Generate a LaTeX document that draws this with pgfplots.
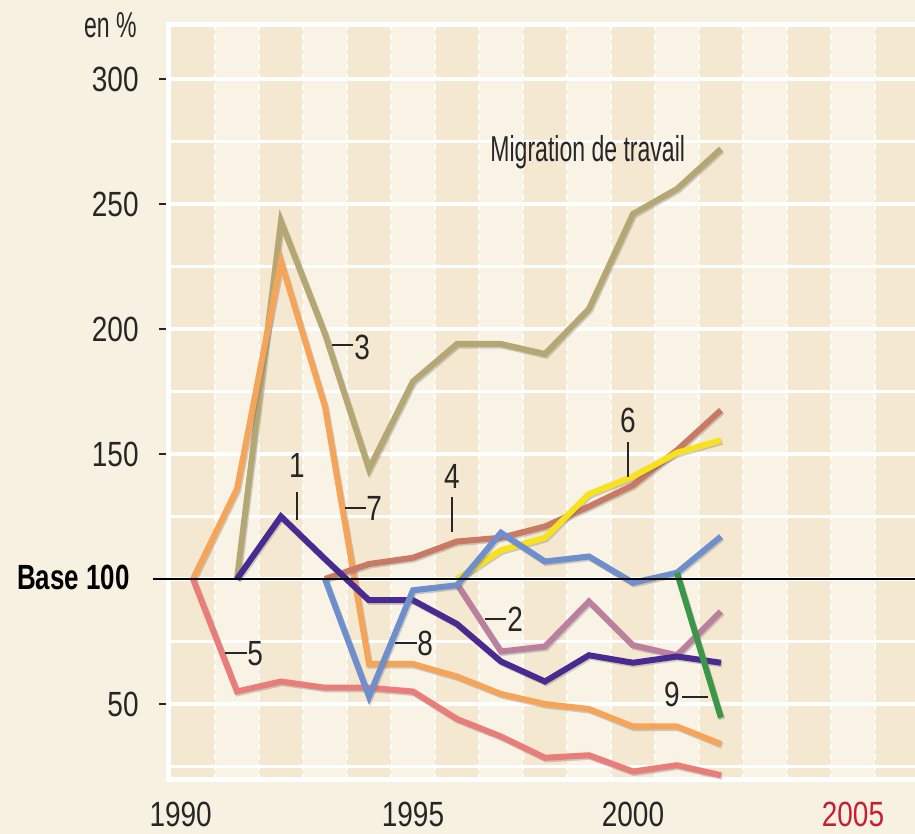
\documentclass[border=0pt]{standalone}
\usepackage{fontspec}
\setmainfont{Liberation Sans}[FakeStretch=0.8]
\newfontfamily\txtfont{Liberation Sans}[FakeStretch=0.64]
\newfontfamily\basefont{Liberation Sans}[FakeStretch=0.74]
\usepackage{pgfplots}
\pgfplotsset{compat=1.18}
\definecolor{bgout}{RGB}{247,241,226}
\definecolor{stripelight}{RGB}{248,243,229}
\definecolor{stripedark}{RGB}{244,232,209}
\definecolor{ckhaki}{RGB}{181,167,115}
\definecolor{corange}{RGB}{245,165,90}
\definecolor{cred}{RGB}{232,125,122}
\definecolor{cbrown}{RGB}{200,122,100}
\definecolor{cyellow}{RGB}{248,226,30}
\definecolor{cmauve}{RGB}{187,128,158}
\definecolor{cpurple}{RGB}{72,42,145}
\definecolor{cblue}{RGB}{110,143,204}
\definecolor{cgreen}{RGB}{60,150,72}
\definecolor{red05}{RGB}{200,30,50}
\pgfplotsset{ser/.style={line width=3pt, no markers,
  preaction={draw=black!60, line width=3pt, opacity=0.3, transform canvas={xshift=0.6pt,yshift=-0.8pt}}}}
\begin{document}
\begin{tikzpicture}
\fill[bgout] (0,0) rectangle (457.5pt,417pt);
\useasboundingbox (0,0) rectangle (457.5pt,417pt);
\begin{axis}[at={(84pt,27pt)}, anchor=south west, scale only axis,
  width=373.5pt, height=377.5pt,
  xmin=1989.432, xmax=2006.41, ymin=19.6, ymax=321.6,
  clip mode=individual,
  axis line style={draw=none},
  axis background/.style={fill=stripelight},
  ytick={50,150,200,250,300}, yticklabels={50,150,200,250,300},
  xtick={1989.72,1995,2000,2005}, xticklabels={1990,1995,2000,\textcolor{red05}{2005}},
  tick align=outside, major tick length=4.5pt,
  ytick style={black!85, line width=0.9pt},
  xtick style={draw=none},
  /pgf/number format/assume math mode=true,
  tick label style={font=\fontsize{17.5}{20}\selectfont, text=black!85},
  yticklabel style={inner sep=0pt, xshift=-10pt},
  xticklabel style={inner sep=0pt, yshift=-6.5pt},
]
\pgfplotsinvokeforeach{1990,1992,1994,1996,1998,2000,2002,2004}{
  \fill[stripedark] (axis cs:#1-0.5,19.6) rectangle (axis cs:#1+0.5,321.6);}
\fill[stripedark] (axis cs:2005.5,19.6) rectangle (axis cs:2006.41,321.6);
\pgfplotsinvokeforeach{1990.5,1991.5,...,2005.5}{
  \draw[white, line width=0.7pt, dash pattern=on 3pt off 2pt, opacity=0.85] (axis cs:#1,19.6) -- (axis cs:#1,321.6);}
\pgfplotsinvokeforeach{25,50,...,300}{
  \draw[white, line width=1.6pt] (axis cs:1989.432,#1) -- (axis cs:2006.41,#1);}
\draw[white, line width=2.5pt] (axis cs:1989.432,19.6) rectangle (axis cs:2007,321.6);

% Migration de travail (3)
\addplot[ser, ckhaki] coordinates {(1991,100) (1992,243) (1993,198) (1994,144) (1995,179) (1996,194) (1997,194) (1998,190) (1999,208) (2000,246) (2001,256) (2002,272)};
% 7
\addplot[ser, corange] coordinates {(1990,100) (1991,136) (1992,227) (1993,169) (1994,66) (1995,66) (1996,61) (1997,54) (1998,50) (1999,48) (2000,41) (2001,41) (2002,34)};
% 5
\addplot[ser, cred] coordinates {(1990,100) (1991,55) (1992,59) (1993,56.5) (1994,56.5) (1995,55) (1996,44) (1997,37) (1998,28.5) (1999,29.5) (2000,23) (2001,25.5) (2002,21.5)};
% 4
\addplot[ser, cbrown] coordinates {(1993,100) (1994,106) (1995,108.5) (1996,115) (1997,116.5) (1998,121) (1999,129) (2000,137.5) (2001,151.5) (2002,167.5)};
% 6
\addplot[ser, cyellow] coordinates {(1996,100) (1997,111.5) (1998,116.5) (1999,134) (2000,141) (2001,150.5) (2002,155.5)};
% 2
\addplot[ser, cmauve] coordinates {(1996,98) (1997,71) (1998,73) (1999,91) (2000,73.5) (2001,69.5) (2002,87)};
% 1
\addplot[ser, cpurple] coordinates {(1991,100) (1992,125) (1993,108) (1994,91.5) (1995,91.5) (1996,82) (1997,67) (1998,59) (1999,69.5) (2000,66.5) (2001,69) (2002,66.5)};
% 8
\addplot[ser, cblue] coordinates {(1993,100) (1994,53) (1995,95.5) (1996,97.5) (1997,118.5) (1998,107) (1999,109) (2000,98.5) (2001,102.5) (2002,117)};
% 9
\addplot[ser, cgreen] coordinates {(2001,102.5) (2002,44.5)};

\draw[black, line width=1pt] (axis cs:1989.09,100) -- (axis cs:2006.5,100);
\end{axis}

\begin{scope}[x=0.5pt,y=-0.5pt,yshift=417pt]
\tikzset{lead/.style={black!85, line width=0.8pt}}
\node[anchor=base east, inner sep=0pt, font=\txtfont\fontsize{18}{20}\selectfont, text=black!85] at (137,38) {en \%};
\node[anchor=base east, inner sep=0pt, font=\basefont\bfseries\fontsize{17.5}{20}\selectfont] at (130,590) {Base 100};
\node[anchor=base west, inner sep=0pt, font=\txtfont\fontsize{18}{20}\selectfont, text=black!85] at (490,162) {Migration de travail};
\tikzset{num/.style={inner sep=0pt, font=\fontsize{17.5}{20}\selectfont, text=black!85}}
% 3
\draw[lead] (332,345) -- (353,345);
\node[num, anchor=base west] at (354,360) {3};
% 1
\node[num, anchor=base] at (297,478) {1};
\draw[lead] (297,492) -- (297,520);
% 7
\draw[lead] (345,508) -- (366,508);
\node[num, anchor=base west] at (366,521) {7};
% 4
\node[num, anchor=base] at (452,489) {4};
\draw[lead] (452,497) -- (452,532);
% 5
\draw[lead] (225,653) -- (247,653);
\node[num, anchor=base west] at (247,666) {5};
% 8
\draw[lead] (395,643) -- (417,643);
\node[num, anchor=base west] at (417,656) {8};
% 6
\node[num, anchor=base] at (628,433) {6};
\draw[lead] (628,442) -- (628,477);
% 2
\draw[lead] (485,619) -- (506,619);
\node[num, anchor=base west] at (507,632) {2};
% 9
\node[num, anchor=base east] at (680,707) {9};
\draw[lead] (682,697) -- (708,697);
\end{scope}
\end{tikzpicture}
\end{document}
